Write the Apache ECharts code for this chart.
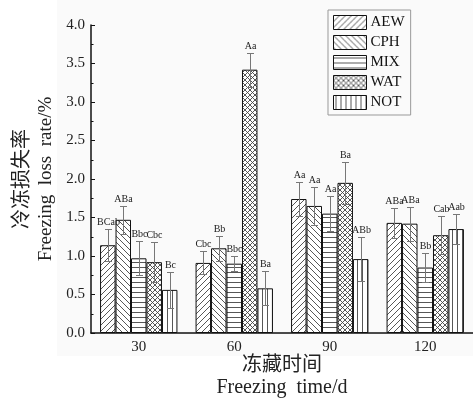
<!DOCTYPE html>
<html>
<head>
<meta charset="utf-8">
<script src="https://cdn.jsdelivr.net/npm/echarts@6/dist/echarts.min.js"></script>
<style>
  html, body { margin: 0; padding: 0; background: #fff; }
  #chart { width: 473px; height: 398px; }
</style>
</head>
<body>
<div id="chart"></div>
<script>
// Freezing time groups (days)
const categories = ['30', '60', '90', '120'];
const seriesNames = ['AEW', 'CPH', 'MIX', 'WAT', 'NOT'];

// Freezing loss rate (%) per treatment
const aewValues = [1.14, 0.91, 1.74, 1.43];
const cphValues = [1.47, 1.10, 1.65, 1.42];
const mixValues = [0.97, 0.90, 1.55, 0.85];
const watValues = [0.92, 3.42, 1.95, 1.27];
const notValues = [0.56, 0.58, 0.96, 1.35];

// Standard deviations
const aewErr = [0.21, 0.15, 0.22, 0.19];
const cphErr = [0.18, 0.16, 0.25, 0.22];
const mixErr = [0.22, 0.10, 0.23, 0.19];
const watErr = [0.26, 0.22, 0.27, 0.25];
const notErr = [0.23, 0.22, 0.29, 0.20];

// Significance letters
const aewSig = ['BCab', 'Cbc', 'Aa', 'ABa'];
const cphSig = ['ABa', 'Bb', 'Aa', 'ABa'];
const mixSig = ['Bbc', 'Bbc', 'Aa', 'Bb'];
const watSig = ['Cbc', 'Aa', 'Ba', 'Cab'];
const notSig = ['Bc', 'Ba', 'ABb', 'Aab'];

// Y-axis ticks
const yMin = 0, yMax = 4, yStep = 0.5;

const values = [aewValues, cphValues, mixValues, watValues, notValues];
const errors = [aewErr, cphErr, mixErr, watErr, notErr];
const letters = [aewSig, cphSig, mixSig, watSig, notSig];

const SERIF = '"Liberation Serif", "Times New Roman", serif';
const CJK = '"Noto Sans CJK SC", sans-serif';
const GAP = 0.19;

// Monochrome hatch fills
function hatch(kind) {
  const s = (kind === 'h' || kind === 'v' || kind === 'x') ? 5 : 6;
  const c = document.createElement('canvas');
  c.width = s; c.height = s;
  const g = c.getContext('2d');
  g.fillStyle = '#fff';
  g.fillRect(0, 0, s, s);
  g.strokeStyle = '#444';
  g.lineWidth = 0.9;
  g.beginPath();
  if (kind === '/' || kind === 'x') {
    g.moveTo(-1, s + 1); g.lineTo(s + 1, -1);
    g.moveTo(-1, 1); g.lineTo(1, -1);
    g.moveTo(s - 1, s + 1); g.lineTo(s + 1, s - 1);
  }
  if (kind === '\\' || kind === 'x') {
    g.moveTo(-1, -1); g.lineTo(s + 1, s + 1);
    g.moveTo(s - 1, -1); g.lineTo(s + 1, 1);
    g.moveTo(-1, s - 1); g.lineTo(1, s + 1);
  }
  if (kind === 'h') { g.moveTo(0, 2.5); g.lineTo(s, 2.5); }
  if (kind === 'v') { g.moveTo(2.5, 0); g.lineTo(2.5, s); }
  g.stroke();
  return { image: c, repeat: 'repeat' };
}
const fills = [hatch('/'), hatch('\\'), hatch('h'), hatch('x'), hatch('v')];

const barSeries = seriesNames.map((name, i) => ({
  name: name,
  type: 'bar',
  data: values[i],
  barGap: '0%',
  barCategoryGap: (GAP * 100) + '%',
  itemStyle: { color: fills[i], borderColor: '#111', borderWidth: 1 },
  emphasis: { disabled: true },
  z: 2
}));

// Error bars + letters
const errData = [];
for (let s = 0; s < seriesNames.length; s++) {
  for (let c = 0; c < categories.length; c++) {
    errData.push([c, s, values[s][c], errors[s][c]]);
  }
}

function renderErr(params, api) {
  const cat = api.value(0), s = api.value(1), v = api.value(2), e = api.value(3);
  const center = api.coord([cat, v]);
  const band = api.size([1, 0])[0];
  const bw = band * (1 - GAP) / seriesNames.length;
  const x = Math.round(center[0] + (s - (seriesNames.length - 1) / 2) * bw) + 0.5;
  const yTop = Math.round(api.coord([cat, v + e])[1]) + 0.5;
  const yBot = Math.round(api.coord([cat, v - e])[1]) + 0.5;
  const cap = 3.5;
  const ls = { stroke: '#777', lineWidth: 1 };
  return {
    type: 'group',
    children: [
      { type: 'line', shape: { x1: x, y1: yTop, x2: x, y2: yBot }, style: ls },
      { type: 'line', shape: { x1: x - cap, y1: yTop, x2: x + cap, y2: yTop }, style: ls },
      { type: 'line', shape: { x1: x - cap, y1: yBot, x2: x + cap, y2: yBot }, style: ls },
      {
        type: 'text', x: x, y: yTop - 2,
        style: {
          text: letters[s][cat], font: '10px ' + SERIF, fill: '#222',
          textAlign: 'center', textVerticalAlign: 'bottom'
        }
      }
    ]
  };
}

const chart = echarts.init(document.getElementById('chart'), null, { renderer: 'canvas' });
chart.setOption({
  animation: false,
  backgroundColor: '#fff',
  grid: { left: 91, right: 0, top: 25, bottom: 65, containLabel: false },
  legend: {
    orient: 'vertical',
    left: 328, top: 10,
    data: seriesNames,
    itemWidth: 33, itemHeight: 14, itemGap: 5,
    padding: [5, 6, 5, 5],
    borderColor: '#999', borderWidth: 1,
    icon: 'rect',
    itemStyle: { borderColor: '#111', borderWidth: 1 },
    textStyle: { fontFamily: SERIF, fontSize: 15, color: '#111', padding: [0, 0, 0, -1] },
    selectedMode: false
  },
  xAxis: [{
    type: 'category',
    data: categories,
    position: 'bottom',
    axisLine: { lineStyle: { color: '#111', width: 1.5 } },
    axisTick: { inside: true, length: 4, interval: 0, lineStyle: { color: '#111' } },
    axisLabel: { fontFamily: SERIF, fontSize: 15, color: '#222', margin: 7 },
    splitLine: { show: false }
  }, {
    type: 'category',
    data: categories,
    position: 'bottom',
    offset: 0,
    axisLine: { show: false },
    axisTick: { inside: true, length: 4, alignWithLabel: true, interval: 0, lineStyle: { color: '#111' } },
    axisLabel: { show: false },
    splitLine: { show: false }
  }],
  yAxis: {
    type: 'value',
    min: yMin, max: yMax, interval: yStep,
    axisLine: { show: true, lineStyle: { color: '#111', width: 1.5 } },
    axisTick: { show: true, inside: true, length: 4, lineStyle: { color: '#111' } },
    minorTick: { show: true, splitNumber: 2, length: 2.5, lineStyle: { color: '#111' } },
    splitLine: { show: false },
    axisLabel: {
      formatter: v => v.toFixed(1),
      fontFamily: SERIF, fontSize: 15, color: '#222', margin: 6
    }
  },
  graphic: [
    {
      type: 'rect', silent: true, z: -100,
      shape: { x: 57, y: 0, width: 416, height: 356 },
      style: { fill: '#fafafa' }
    },
    {
      type: 'text', x: 20, y: 179, rotation: Math.PI / 2,
      style: { text: '冷冻损失率', font: '20px ' + CJK, fill: '#222', textAlign: 'center', textVerticalAlign: 'middle' }
    },
    {
      type: 'text', x: 46, y: 179, rotation: Math.PI / 2,
      style: { text: 'Freezing  loss  rate/%', font: '19px ' + SERIF, fill: '#222', textAlign: 'center', textVerticalAlign: 'middle' }
    },
    {
      type: 'text', x: 282, y: 363,
      style: { text: '冻藏时间', font: '20px ' + CJK, fill: '#222', textAlign: 'center', textVerticalAlign: 'middle' }
    },
    {
      type: 'text', x: 282, y: 388,
      style: { text: 'Freezing  time/d', font: '20px ' + SERIF, fill: '#222', textAlign: 'center', textVerticalAlign: 'middle' }
    }
  ],
  series: barSeries.concat([{
    name: 'err',
    type: 'custom',
    renderItem: renderErr,
    data: errData,
    encode: { x: 0, y: 2 },
    z: 5,
    silent: true
  }])
});
</script>
</body>
</html>
